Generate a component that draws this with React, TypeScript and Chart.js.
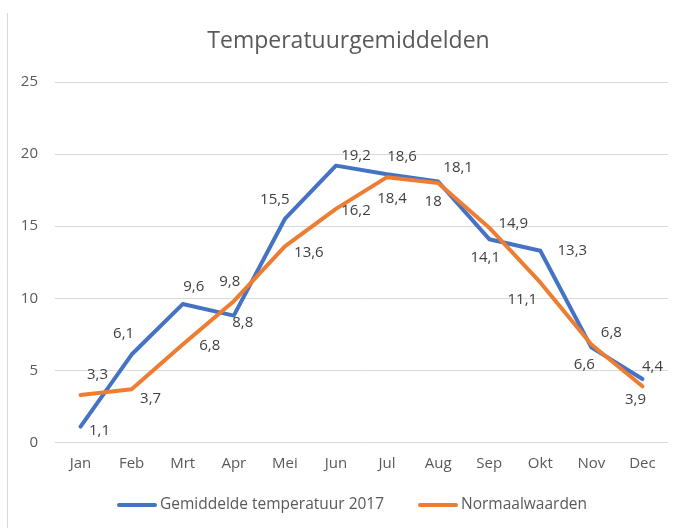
import React, { useEffect, useRef } from "react";
import { Chart, registerables } from "chart.js";

Chart.register(...registerables);

const TITLE = "Temperatuurgemiddelden";
const MONTHS = ["Jan", "Feb", "Mrt", "Apr", "Mei", "Jun", "Jul", "Aug", "Sep", "Okt", "Nov", "Dec"];
const SERIES_2017_NAME = "Gemiddelde temperatuur 2017";
const SERIES_NORM_NAME = "Normaalwaarden";
const TEMP_2017 = [1.1, 6.1, 9.6, 8.8, 15.5, 19.2, 18.6, 18.1, 14.1, 13.3, 6.6, 4.4];
const TEMP_NORM = [3.3, 3.7, 6.8, 9.8, 13.6, 16.2, 18.4, 18, 14.9, 11.1, 6.8, 3.9];
const Y_MIN = 0;
const Y_MAX = 25;
const Y_STEP = 5;

// label placement offsets relative to each point (layout only)
const OFFSETS_2017: [number, number][] = [
  [19, 4], [-8, -21], [11, -17], [9, 7], [-10, -19], [20, -10],
  [15, -18], [20, -14], [-4, 19], [32, 0], [-7, 17], [10, -12],
];
const OFFSETS_NORM: [number, number][] = [
  [17, -20], [19, 10], [27, 1], [-4, -19], [24, 6], [20, 2],
  [5, 22], [-5, 19], [24, -4], [-18, 17], [20, -12], [-7, 13],
];

const BLUE = "#4472C4";
const ORANGE = "#ED7D31";
const FONT = "'Open Sans', 'DejaVu Sans', sans-serif";

const fmt = (v: number) => String(v).replace(".", ",");

export default function App() {
  const ref = useRef<HTMLCanvasElement | null>(null);

  useEffect(() => {
    if (!ref.current) return;
    const offsets = [OFFSETS_2017, OFFSETS_NORM];

    const decor = {
      id: "decor",
      beforeDraw(chart: any) {
        const ctx = chart.ctx;
        ctx.save();
        ctx.strokeStyle = "#d9d9d9";
        ctx.lineWidth = 1;
        ctx.beginPath();
        ctx.moveTo(7.5, 13);
        ctx.lineTo(7.5, 528);
        ctx.stroke();
        ctx.restore();
      },
      afterDraw(chart: any) {
        const ctx = chart.ctx;
        ctx.save();
        // title
        ctx.fillStyle = "#595959";
        ctx.font = `23px ${FONT}`;
        ctx.textAlign = "center";
        ctx.textBaseline = "alphabetic";
        ctx.fillText(TITLE, 348.5, 48);

        // data labels
        ctx.fillStyle = "#404040";
        ctx.font = `15px ${FONT}`;
        ctx.textAlign = "center";
        ctx.textBaseline = "middle";
        chart.data.datasets.forEach((ds: any, di: number) => {
          const meta = chart.getDatasetMeta(di);
          meta.data.forEach((pt: any, i: number) => {
            const [dx, dy] = offsets[di][i];
            ctx.fillText(fmt(ds.data[i]), pt.x + dx, pt.y + dy);
          });
        });

        // legend
        const items = [
          { label: SERIES_2017_NAME, color: BLUE, x: 117 },
          { label: SERIES_NORM_NAME, color: ORANGE, x: 418 },
        ];
        const ly = 505;
        ctx.font = `15.5px ${FONT}`;
        ctx.textAlign = "left";
        ctx.fillStyle = "#595959";
        items.forEach((it) => {
          ctx.strokeStyle = it.color;
          ctx.lineWidth = 4;
          ctx.lineCap = "round";
          ctx.beginPath();
          ctx.moveTo(it.x + 2, ly);
          ctx.lineTo(it.x + 38, ly);
          ctx.stroke();
          ctx.fillText(it.label, it.x + 43, ly);
        });
        ctx.restore();
      },
    };

    const chart = new Chart(ref.current, {
      type: "line",
      data: {
        labels: MONTHS,
        datasets: [
          {
            label: SERIES_2017_NAME,
            data: TEMP_2017,
            borderColor: BLUE,
            backgroundColor: BLUE,
            borderWidth: 4,
            pointRadius: 0,
            tension: 0,
            borderCapStyle: "round",
            borderJoinStyle: "round",
            order: 1,
          },
          {
            label: SERIES_NORM_NAME,
            data: TEMP_NORM,
            borderColor: ORANGE,
            backgroundColor: ORANGE,
            borderWidth: 4,
            pointRadius: 0,
            tension: 0,
            borderCapStyle: "round",
            borderJoinStyle: "round",
            order: 0,
          },
        ],
      },
      options: {
        responsive: false,
        animation: false,
        layout: { padding: { top: 82, right: 15, bottom: 0, left: 0 } },
        plugins: {
          legend: { display: false },
          title: { display: false },
          tooltip: { enabled: false },
        },
        scales: {
          x: {
            offset: true,
            grid: { display: false, drawTicks: false },
            border: { display: false },
            ticks: {
              color: "#595959",
              font: { family: FONT, size: 15 },
              padding: 12,
              maxRotation: 0,
              autoSkip: false,
            },
            afterFit(scale: any) {
              scale.height = 85.5;
            },
          },
          y: {
            min: Y_MIN,
            max: Y_MAX,
            grid: { color: "#d9d9d9", lineWidth: 1, drawTicks: false },
            border: { display: false },
            ticks: {
              stepSize: Y_STEP,
              color: "#595959",
              font: { family: FONT, size: 15 },
              padding: 17,
            },
            afterFit(scale: any) {
              scale.width = 55;
            },
          },
        },
      },
      plugins: [decor],
    });
    return () => chart.destroy();
  }, []);

  return (
    <div style={{ position: "fixed", left: 0, top: 0, width: 683, height: 528, background: "#fff" }}>
      <canvas ref={ref} width={683} height={528} style={{ width: 683, height: 528, display: "block" }} />
    </div>
  );
}
